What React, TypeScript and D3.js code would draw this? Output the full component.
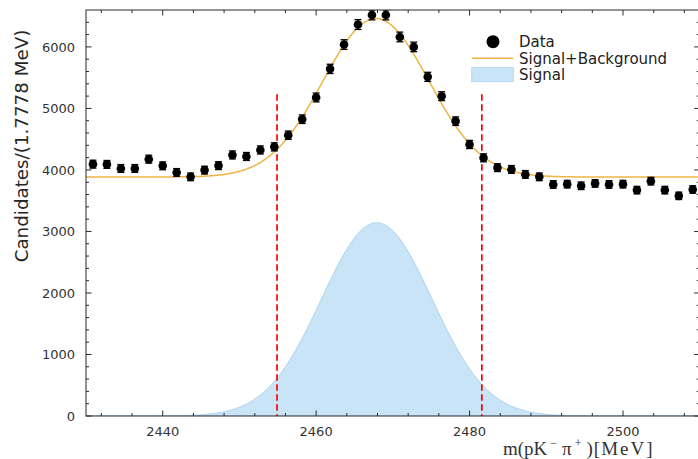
import React from 'react';
import * as d3 from 'd3';

const W = 698;
const H = 459;

// histogram binning (44 bins across 2430–2510 MeV)
const massLo = 2430;
const massHi = 2510;
const nBins = 44;

// candidates per bin
const candidates = [
  4094, 4090, 4024, 4024, 4175, 4067, 3959, 3888, 3997, 4070, 4244,
  4219, 4325, 4375, 4565, 4825, 5178, 5643, 6039, 6364, 6520, 6520,
  6162, 6000, 5513, 5199, 4793, 4414, 4197, 4037, 4008, 3927, 3888,
  3764, 3769, 3742, 3781, 3764, 3769, 3672, 3818, 3672, 3579, 3683,
];

const xTickLabels = [2440, 2460, 2480, 2500];
const yTickLabels = [0, 1000, 2000, 3000, 4000, 5000, 6000];

// signal window
const windowEdges = [2454.9, 2481.6];
const windowTop = 5230;

// fit results
const sigMean = 2467.9;
const sigSigma = 7.2;
const sigAmp = 3141;
const totMean = 2467.8;
const totSigma = 6.9;
const totAmp = 2576;
const bkgLevel = 3885;

const legendLabels = ['Data', 'Signal+Background', 'Signal'];

const AX = '#2b2b2b';
const ORANGE = '#efb447';
const BLUE_FILL = '#c8e4f6';
const BLUE_EDGE = '#a8d3ef';

const gauss = (x: number, m: number, s: number, a: number) =>
  a * Math.exp(-((x - m) * (x - m)) / (2 * s * s));

export default function App() {
  const left = 86;
  const right = 699.7;
  const top = 10;
  const bottom = 416;

  const x = d3.scaleLinear().domain([massLo, massHi]).range([left, right]);
  const y = d3.scaleLinear().domain([0, 6600]).range([bottom, top]);

  const binW = (massHi - massLo) / nBins;
  const pts = candidates.map((v, i) => ({ m: massLo + (i + 0.5) * binW, v, e: Math.sqrt(v) }));

  const grid = d3.range(massLo, massHi + 0.001, 0.1);
  const sigArea = d3
    .area<number>()
    .x((d) => x(d))
    .y0(y(0))
    .y1((d) => y(gauss(d, sigMean, sigSigma, sigAmp)));
  const totLine = d3
    .line<number>()
    .x((d) => x(d))
    .y((d) => y(bkgLevel + gauss(d, totMean, totSigma, totAmp)));

  const xMinor = d3.range(2432, 2510, 4).filter((t) => t % 20 !== 0);
  const yMinor = d3.range(200, 6600, 200).filter((t) => t % 1000 !== 0);
  const MAJ = 5.5;
  const MIN = 3;

  const serif = "'Liberation Serif', 'DejaVu Serif', serif";

  return (
    <svg
      width={W}
      height={H}
      style={{ position: 'absolute', left: 0, top: 0, background: '#fff' }}
      fontFamily="'DejaVu Sans', sans-serif"
    >
      <defs>
        <clipPath id="plotclip">
          <rect x={left} y={top} width={right - left} height={bottom - top} />
        </clipPath>
      </defs>

      <g clipPath="url(#plotclip)">
        <path d={sigArea(grid) || ''} fill={BLUE_FILL} stroke={BLUE_EDGE} strokeWidth={1} />
        <path d={totLine(grid) || ''} fill="none" stroke={ORANGE} strokeWidth={1.5} />
        {windowEdges.map((m, i) => (
          <line
            key={i}
            x1={x(m)}
            x2={x(m)}
            y1={y(windowTop)}
            y2={y(0)}
            stroke="#ff0000"
            strokeWidth={1.7}
            strokeDasharray="6.5,3.5"
          />
        ))}
        {pts.map((p, i) => (
          <g key={i}>
            <line x1={x(p.m)} x2={x(p.m)} y1={y(p.v - p.e)} y2={y(p.v + p.e)} stroke="#000" strokeWidth={1.3} />
            <line x1={x(p.m) - 3.5} x2={x(p.m) + 3.5} y1={y(p.v - p.e)} y2={y(p.v - p.e)} stroke="#000" strokeWidth={1.3} />
            <line x1={x(p.m) - 3.5} x2={x(p.m) + 3.5} y1={y(p.v + p.e)} y2={y(p.v + p.e)} stroke="#000" strokeWidth={1.3} />
            <circle cx={x(p.m)} cy={y(p.v)} r={4.3} fill="#000" />
          </g>
        ))}
      </g>

      {/* frame */}
      <rect x={left} y={top} width={right - left} height={bottom - top} fill="none" stroke={AX} strokeWidth={1} />

      {/* x ticks */}
      {xTickLabels.map((t) => (
        <g key={'xt' + t}>
          <line x1={x(t)} x2={x(t)} y1={bottom} y2={bottom - MAJ} stroke={AX} />
          <line x1={x(t)} x2={x(t)} y1={top} y2={top + MAJ} stroke={AX} />
          <text x={x(t)} y={436} textAnchor="middle" fontSize={13} fill="#333">
            {t}
          </text>
        </g>
      ))}
      {xMinor.map((t) => (
        <g key={'xm' + t}>
          <line x1={x(t)} x2={x(t)} y1={bottom} y2={bottom - MIN} stroke={AX} />
          <line x1={x(t)} x2={x(t)} y1={top} y2={top + MIN} stroke={AX} />
        </g>
      ))}

      {/* y ticks */}
      {yTickLabels.map((t) => (
        <g key={'yt' + t}>
          <line x1={left} x2={left + MAJ} y1={y(t)} y2={y(t)} stroke={AX} />
          <line x1={right} x2={right - MAJ} y1={y(t)} y2={y(t)} stroke={AX} />
          <text x={75} y={y(t) + 4.6} textAnchor="end" fontSize={13} fill="#333">
            {t}
          </text>
        </g>
      ))}
      {yMinor.map((t) => (
        <g key={'ym' + t}>
          <line x1={left} x2={left + MIN} y1={y(t)} y2={y(t)} stroke={AX} />
          <line x1={right} x2={right - MIN} y1={y(t)} y2={y(t)} stroke={AX} />
        </g>
      ))}

      {/* axis labels */}
      <text
        transform={`translate(28,146) rotate(-90)`}
        textAnchor="middle"
        fontSize={18.3}
        fill="#262626"
      >
        Candidates/(1.7778 MeV)
      </text>
      <text x={503} y={455} fontSize={19} fill="#333" fontFamily={serif}>
        m(pK
        <tspan fontSize={12} dy={-8} dx={3}>
          {'\u2212'}
        </tspan>
        <tspan dy={8} dx={5}>
          {'\u03c0'}
        </tspan>
        <tspan fontSize={12} dy={-8} dx={3}>
          {'+'}
        </tspan>
        <tspan dy={8} dx={5}>
          {')'}
        </tspan>
        <tspan dx={1}>{'['}</tspan>
        <tspan dx={1} letterSpacing={2}>
          {'MeV'}
        </tspan>
        <tspan>{']'}</tspan>
      </text>

      {/* legend */}
      <g fontSize={15} fill="#222">
        <circle cx={493} cy={41.7} r={6.5} fill="#000" />
        <text x={519} y={47}>
          {legendLabels[0]}
        </text>
        <line x1={471.7} x2={513.3} y1={58.3} y2={58.3} stroke={ORANGE} strokeWidth={1.5} />
        <text x={519} y={63.5}>
          {legendLabels[1]}
        </text>
        <rect x={471.7} y={67.7} width={41.6} height={14} fill={BLUE_FILL} stroke={BLUE_EDGE} strokeWidth={0.8} />
        <text x={519} y={80}>
          {legendLabels[2]}
        </text>
      </g>
    </svg>
  );
}
